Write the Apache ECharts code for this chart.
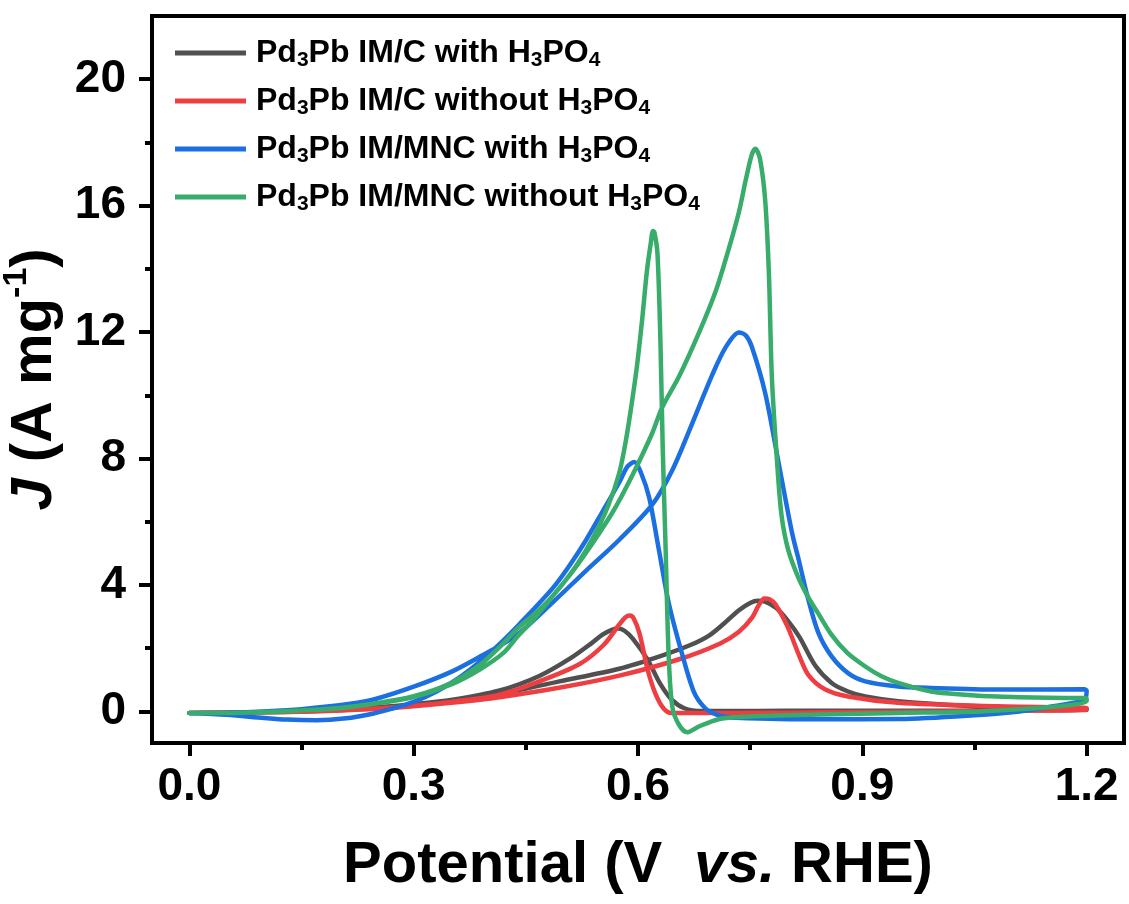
<!DOCTYPE html>
<html><head><meta charset="utf-8">
<script src="https://cdn.jsdelivr.net/npm/echarts@6/dist/echarts.min.js"></script>
<style>html,body{margin:0;padding:0;background:#fff}#c{width:1129px;height:904px}</style>
</head><body><div id="c"></div>
<script>
// ---- data (potential V vs. RHE, current density A mg^-1), each loop in scan order ----
const seriesNames = ['Pd3Pb IM/C with H3PO4','Pd3Pb IM/C without H3PO4','Pd3Pb IM/MNC with H3PO4','Pd3Pb IM/MNC without H3PO4'];
const xTicks = [0, 0.3, 0.6, 0.9, 1.2];
const xMinorTicks = [0.15, 0.45, 0.75, 1.05];
const yTicks = [0, 4, 8, 12, 16, 20];
const yMinorTicks = [2, 6, 10, 14, 18];

const blackV = [0.00,0.05,0.10,0.15,0.20,0.25,0.30,0.35,0.415,0.495,0.575,0.63,0.67,0.695,0.715,0.735,0.75,0.76,0.77,0.785,0.80,0.816,0.837,0.859,0.881,0.904,0.948,1.037,1.126,1.20,
  1.20,1.10,1.00,0.90,0.80,0.72,0.685,0.662,0.645,0.629,0.613,0.593,0.582,0.574,0.565,0.552,0.538,0.511,0.468,0.415,0.35,0.30,0.25,0.20,0.15,0.10,0.05,0.00];
const blackJ = [-0.05,-0.04,-0.03,0.00,0.04,0.10,0.19,0.31,0.55,0.95,1.35,1.75,2.1,2.4,2.78,3.2,3.43,3.5,3.47,3.27,2.88,2.35,1.45,0.9,0.63,0.47,0.32,0.18,0.11,0.08,
  0.05,0.03,0.02,0.02,0.02,0.01,0.01,0.1,0.37,0.9,1.63,2.3,2.55,2.62,2.58,2.42,2.16,1.7,1.12,0.66,0.36,0.23,0.13,0.06,0.01,-0.02,-0.04,-0.05];

const redV = [0.00,0.05,0.10,0.15,0.20,0.25,0.30,0.35,0.415,0.50,0.575,0.655,0.71,0.735,0.752,0.762,0.769,0.776,0.784,0.80,0.816,0.828,0.85,0.881,0.948,1.081,1.20,
  1.20,1.10,1.00,0.90,0.80,0.735,0.645,0.634,0.623,0.613,0.602,0.594,0.589,0.583,0.575,0.554,0.522,0.468,0.415,0.35,0.30,0.25,0.20,0.15,0.10,0.05,0.00];
const redJ = [-0.05,-0.04,-0.03,0.0,0.03,0.08,0.16,0.27,0.45,0.77,1.13,1.65,2.15,2.52,2.95,3.38,3.57,3.55,3.38,2.68,1.74,1.15,0.7,0.47,0.27,0.16,0.1,
  0.06,0.02,0.0,-0.02,-0.04,-0.05,-0.05,0.1,0.58,1.31,2.47,2.95,3.03,2.97,2.75,2.1,1.5,0.95,0.53,0.3,0.18,0.09,0.03,-0.01,-0.03,-0.04,-0.05];

const blueV = [0.00,0.05,0.10,0.15,0.215,0.25,0.30,0.35,0.39,0.437,0.486,0.53,0.575,0.619,0.646,0.672,0.699,0.717,0.735,0.744,0.752,0.77,0.788,0.806,0.815,0.826,0.841,0.859,0.881,0.904,0.948,0.992,1.081,1.197,1.20,
  1.198,1.185,1.16,1.11,1.05,0.95,0.85,0.789,0.73,0.72,0.705,0.69,0.675,0.658,0.641,0.628,0.615,0.604,0.595,0.586,0.575,0.552,0.53,0.508,0.486,0.441,0.42,0.39,0.36,0.33,0.30,0.27,0.24,0.21,0.17,0.13,0.10,0.05,0.00];
const blueJ = [-0.05,-0.04,0.0,0.07,0.24,0.4,0.78,1.25,1.75,2.4,3.45,4.44,5.43,6.54,7.64,9.08,10.63,11.51,11.99,11.9,11.55,10.08,7.87,5.65,4.79,3.7,2.5,1.74,1.21,0.95,0.79,0.74,0.69,0.70,0.66,
  0.4,0.28,0.18,0.0,-0.12,-0.24,-0.25,-0.24,-0.2,-0.18,-0.1,0.1,0.6,1.9,3.44,5.1,6.76,7.55,7.89,7.75,7.25,6.3,5.4,4.6,3.9,2.75,2.25,1.6,1.05,0.62,0.3,0.08,-0.1,-0.22,-0.28,-0.26,-0.21,-0.11,-0.05];

const greenV = [0.00,0.05,0.10,0.15,0.20,0.25,0.30,0.35,0.39,0.42,0.44,0.46,0.486,0.51,0.53,0.566,0.592,0.619,0.632,0.655,0.681,0.704,0.721,0.735,0.744,0.752,0.757,0.763,0.770,0.775,0.779,0.786,0.792,0.801,0.815,0.828,0.841,0.859,0.88,0.904,0.925,0.948,0.992,1.037,1.081,1.15,1.197,1.20,
  1.20,1.164,1.057,0.95,0.843,0.789,0.736,0.709,0.682,0.666,0.655,0.646,0.641,0.637,0.633,0.630,0.626,0.622,0.620,0.617,0.612,0.606,0.599,0.592,0.584,0.575,0.56,0.54,0.52,0.50,0.48,0.46,0.44,0.42,0.39,0.35,0.30,0.25,0.20,0.15,0.10,0.05,0.00];
const greenJ = [-0.05,-0.05,-0.02,0.03,0.1,0.25,0.45,0.85,1.35,1.85,2.4,2.9,3.65,4.35,5.0,6.3,7.45,8.8,9.6,10.6,11.95,13.3,14.6,15.8,16.8,17.6,17.8,17.5,16.2,13.9,10.6,7.9,6.2,5.1,4.2,3.6,3.1,2.42,1.85,1.42,1.12,0.9,0.63,0.53,0.47,0.43,0.42,0.4,
  0.32,0.16,0.0,-0.05,-0.1,-0.13,-0.18,-0.24,-0.47,-0.66,-0.43,0.13,1.78,5.1,8.4,11.7,14.5,15.15,15.2,14.8,13.95,12.5,11.0,9.8,8.6,7.55,6.5,5.5,4.7,4.05,3.5,3.05,2.65,2.15,1.5,0.9,0.48,0.26,0.11,0.03,-0.02,-0.05,-0.05];

const colors = ['#505050', '#ef3e42', '#1c6fe0', '#38ac6a'];
// ---------------------------------------------------------------------------------------

const FONT = "'Liberation Sans', Arial, Helvetica, sans-serif";
const pair = (V, J) => V.map((v, i) => [v, J[i]]);
const loops = [pair(blackV, blackJ), pair(redV, redJ), pair(blueV, blueJ), pair(greenV, greenJ)];

function richName(name) {
  return '{b|' + name.replace(/(\d)/g, '}{s|$1}{b|') + '}';
}

const chart = echarts.init(document.getElementById('c'), null, {renderer: 'canvas'});
const tickStyle = {color: '#000', width: 4};
chart.setOption({
  animation: false,
  backgroundColor: '#fff',
  color: colors,
  grid: {left: 152, right: 5, top: 16, bottom: 161, containLabel: false, outerBoundsMode: 'none',
         show: true, borderColor: '#000', borderWidth: 4, backgroundColor: 'transparent'},
  legend: {
    orient: 'vertical', left: 170, top: 32, itemGap: 14, itemWidth: 71, itemHeight: 5, icon: 'rect',
    data: seriesNames,
    formatter: richName,
    textStyle: {
      color: '#000', fontFamily: FONT, padding: [0, 0, 0, 5],
      rich: {
        b: {fontSize: 32, fontWeight: 'bold', lineHeight: 36, fontFamily: FONT, color: '#000'},
        s: {fontSize: 21, fontWeight: 'bold', lineHeight: 15, verticalAlign: 'bottom', fontFamily: FONT, color: '#000'}
      }
    }
  },
  xAxis: [{
    type: 'value', min: -0.05, max: 1.25, position: 'bottom',
    name: '{n|Potential (V  }{i|vs.}{n| RHE)}', nameLocation: 'middle', nameGap: 91,
    nameTextStyle: {rich: {
      n: {fontSize: 58, fontWeight: 'bold', fontFamily: FONT, color: '#000', lineHeight: 64},
      i: {fontSize: 58, fontWeight: 'bold', fontStyle: 'italic', fontFamily: FONT, color: '#000', lineHeight: 64}
    }},
    axisLine: {onZero: false, lineStyle: tickStyle},
    axisTick: {show: true, customValues: xTicks, length: 13, lineStyle: tickStyle},
    axisLabel: {customValues: xTicks, formatter: v => v.toFixed(1), fontSize: 46, fontWeight: 'bold', fontFamily: FONT, color: '#000', margin: 21},
    splitLine: {show: false}
  }, {
    type: 'value', min: -0.05, max: 1.25, position: 'bottom',
    axisLine: {show: false, onZero: false},
    axisTick: {show: true, customValues: xMinorTicks, length: 7, lineStyle: tickStyle},
    axisLabel: {show: false},
    splitLine: {show: false}
  }],
  yAxis: [{
    type: 'value', min: -1, max: 22, position: 'left',
    name: '{i|J}{n| (A mg}{p|-1}{n|)}', nameLocation: 'middle', nameGap: 69,
    nameTextStyle: {rich: {
      i: {fontSize: 58, fontWeight: 'bold', fontStyle: 'italic', fontFamily: FONT, color: '#000', lineHeight: 70},
      n: {fontSize: 58, fontWeight: 'bold', fontFamily: FONT, color: '#000', lineHeight: 70},
      p: {fontSize: 34, fontWeight: 'bold', fontFamily: FONT, color: '#000', lineHeight: 34, verticalAlign: 'top'}
    }},
    axisLine: {onZero: false, lineStyle: tickStyle},
    axisTick: {show: true, customValues: yTicks, length: 13, lineStyle: tickStyle},
    axisLabel: {customValues: yTicks, fontSize: 46, fontWeight: 'bold', fontFamily: FONT, color: '#000', margin: 26},
    splitLine: {show: false}
  }, {
    type: 'value', min: -1, max: 22, position: 'left',
    axisLine: {show: false, onZero: false},
    axisTick: {show: true, customValues: yMinorTicks, length: 7, lineStyle: tickStyle},
    axisLabel: {show: false},
    splitLine: {show: false}
  }],
  series: loops.map((d, i) => ({
    name: seriesNames[i], type: 'line', data: d, xAxisIndex: 0, yAxisIndex: 0,
    showSymbol: false, symbol: 'none', smooth: 0.3,
    lineStyle: {width: 4.5, color: colors[i], cap: 'round', join: 'round'},
    itemStyle: {color: colors[i]},
    z: 2 + i
  }))
});
</script></body></html>
